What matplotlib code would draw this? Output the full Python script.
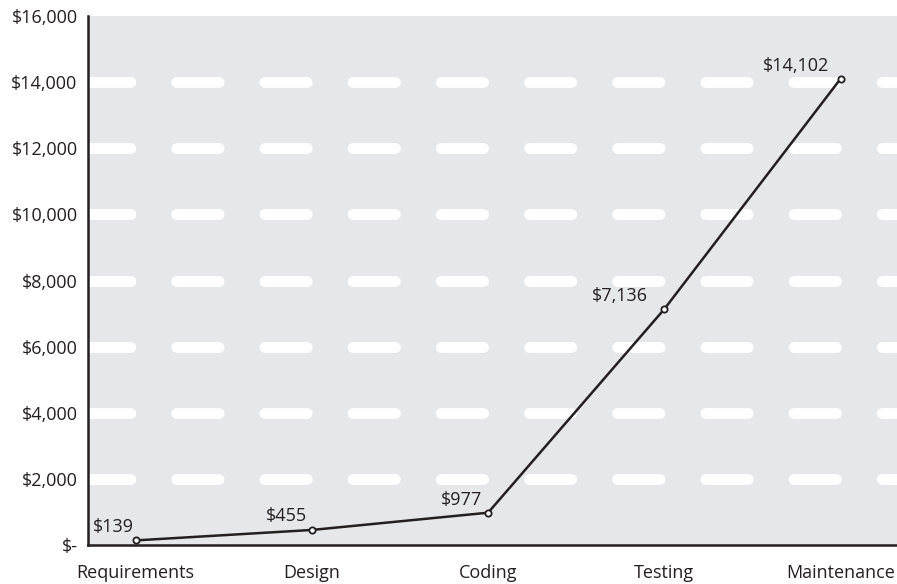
import matplotlib
matplotlib.use("Agg")
import matplotlib.pyplot as plt
from matplotlib.ticker import FuncFormatter

plt.rcParams['font.family'] = ['Open Sans', 'DejaVu Sans']
plt.rcParams['lines.scale_dashes'] = False

phases = ["Requirements", "Design", "Coding", "Testing", "Maintenance"]
costs = [139, 455, 977, 7136, 14102]
y_ticks = [0, 2000, 4000, 6000, 8000, 10000, 12000, 14000, 16000]
label_offsets = [(-16, 9.5), (-18, 10), (-19.5, 9.5), (-32, 9.5), (-32, 9.5)]

fig = plt.figure(figsize=(8.97, 5.84), dpi=100)
ax = fig.add_axes([88/897, 39/584, 1 - 88/897, (545-16)/584])
ax.set_facecolor('#E6E7E8')

x = list(range(len(phases)))
for yv in y_ticks[1:-1]:
    ax.axhline(yv, color='white', lw=7.8, dashes=(30.5, 33), dash_capstyle='round', zorder=1)

ax.plot(x, costs, color='#231F20', lw=1.8, marker='o', markersize=4.5,
        markerfacecolor='white', markeredgecolor='#231F20', markeredgewidth=1.3, zorder=3)

for xi, c, (dx, dy) in zip(x, costs, label_offsets):
    ax.annotate(f"${c:,}", (xi, c), xytext=(dx, dy), textcoords='offset points',
                ha='center', va='center', fontsize=13, color='#231F20')

ax.set_xlim(-0.27, 4.32)
ax.set_ylim(0, 16000)
ax.set_yticks(y_ticks)
ax.yaxis.set_major_formatter(FuncFormatter(lambda v, p: "$-" if v == 0 else f"${int(v):,}"))
ax.set_xticks(x)
ax.set_xticklabels(phases)
ax.tick_params(axis='both', length=0, labelsize=13, colors='#231F20')
ax.tick_params(axis='y', pad=7.5)
ax.tick_params(axis='x', pad=14)
for s in ['top', 'right']:
    ax.spines[s].set_visible(False)
for s in ['left', 'bottom']:
    ax.spines[s].set_color('#231F20')
    ax.spines[s].set_linewidth(1.8)
    ax.spines[s].set_zorder(4)

fig.savefig("out.png", dpi=100)
